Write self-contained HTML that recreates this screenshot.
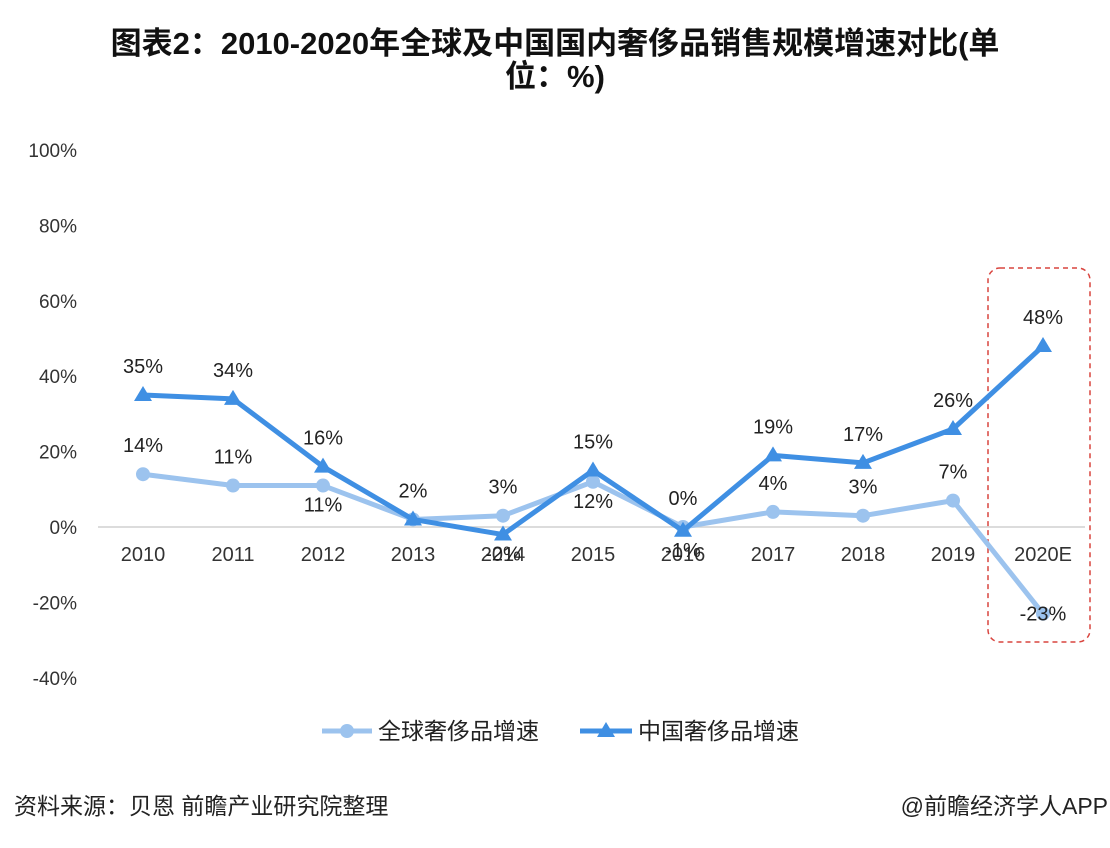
<!DOCTYPE html>
<html><head><meta charset="utf-8"><style>
body{margin:0;background:#fff;width:1110px;height:848px;overflow:hidden;font-family:"Liberation Sans","Noto Sans CJK SC",sans-serif}
.t{position:absolute;left:0;width:1110px;text-align:center;font-weight:bold;font-size:31px;color:#111}
</style></head><body>
<div class="t" style="top:27px;line-height:33px">图表2：2010-2020年全球及中国国内奢侈品销售规模增速对比(单<br>位：%)</div>
<svg id="c" width="1110" height="848" style="position:absolute;left:0;top:0"></svg>
<script>
const categories=["2010","2011","2012","2013","2014","2015","2016","2017","2018","2019","2020E"];
const globalVals=[14,11,11,2,3,12,0,4,3,7,-23];
const chinaVals=[35,34,16,2,-2,15,-1,19,17,26,48];
const globalLabels=["14%","11%","11%","","3%","12%","0%","4%","3%","7%","-23%"];
const chinaLabels=["35%","34%","16%","2%","-2%","15%","-1%","19%","17%","26%","48%"];
const globalBelow=[0,0,1,0,0,1,0,0,0,0,1];
const chinaBelow=[0,0,0,0,1,0,1,0,0,0,0];
const yTicks=[100,80,60,40,20,0,-20,-40];
const svg=document.getElementById('c');const NS='http://www.w3.org/2000/svg';
const x=i=>143+i*90, y=v=>527-v*3.77;
function mk(t,a,p){const e=document.createElementNS(NS,t);for(const k in a)e.setAttribute(k,a[k]);(p||svg).appendChild(e);return e;}
const zl=mk('line',{x1:98,x2:1085,y1:y(0),y2:y(0),stroke:'#d0d0d0','stroke-width':1.5});

yTicks.forEach(v=>{const t=mk('text',{x:77,y:y(v)+7,'text-anchor':'end','font-size':19,fill:'#333'});t.textContent=v+'%';
});
categories.forEach((c,i)=>{const t=mk('text',{x:x(i),y:561,'text-anchor':'middle','font-size':20,fill:'#333'});t.textContent=c;
});
const box=mk('rect',{x:988,y:268,width:102,height:374,rx:12,fill:'none',stroke:'#d9453f','stroke-width':1.5,'stroke-dasharray':'5,4'});

function series(vals,col,w,name){const p=mk('polyline',{points:vals.map((v,i)=>x(i)+','+y(v)).join(' '),fill:'none',stroke:col,'stroke-width':w,'stroke-linejoin':'round'});
}
series(globalVals,'#9cc3ee',5,'global');
globalVals.forEach((v,i)=>{const c=mk('circle',{cx:x(i),cy:y(v),r:7,fill:'#9cc3ee'});});
series(chinaVals,'#3f8fe3',5,'china');
chinaVals.forEach((v,i)=>{const X=x(i),Y=y(v);const t=mk('polygon',{points:`${X},${Y-9} ${X-9},${Y+6} ${X+9},${Y+6}`,fill:'#3f8fe3'});});
function labels(vals,labs,below,name){vals.forEach((v,i)=>{if(!labs[i])return;
let yy=below[i]?y(v)+26:y(v)-22; if(i===10&&below[i]) yy=y(v)+7;
const t=mk('text',{x:x(i),y:yy,'text-anchor':'middle','font-size':20,fill:'#222'});t.textContent=labs[i];
});}
labels(globalVals,globalLabels,globalBelow,'global');labels(chinaVals,chinaLabels,chinaBelow,'china');
const g1=mk('line',{x1:322,x2:372,y1:731,y2:731,stroke:'#9cc3ee','stroke-width':5});
const g2=mk('circle',{cx:347,cy:731,r:7,fill:'#9cc3ee'});
const g3=mk('text',{x:378,y:739,'font-size':23,fill:'#222'});g3.textContent='全球奢侈品增速';
const c1=mk('line',{x1:580,x2:632,y1:731,y2:731,stroke:'#3f8fe3','stroke-width':5});
const c2=mk('polygon',{points:'606,722 597,737 615,737',fill:'#3f8fe3'});
const c3=mk('text',{x:638,y:739,'font-size':23,fill:'#222'});c3.textContent='中国奢侈品增速';
const f1=mk('text',{x:14,y:814,'font-size':23,fill:'#222'});f1.textContent='资料来源：贝恩 前瞻产业研究院整理';
const f2=mk('text',{x:1108,y:814,'text-anchor':'end','font-size':23,fill:'#222'});f2.textContent='@前瞻经济学人APP';
</script>
</body></html>
